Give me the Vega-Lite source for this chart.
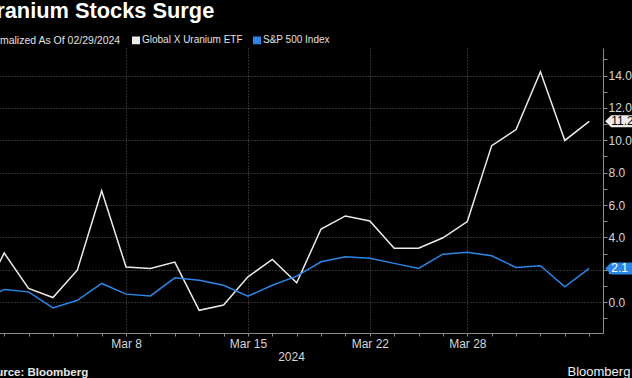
{
  "$schema": "https://vega.github.io/schema/vega-lite/v6.json",
  "width": 637,
  "height": 285,
  "autosize": {"type": "none"},
  "padding": {"left": -34, "top": 48, "right": 29, "bottom": 45},
  "background": "#000000",
  "title": {
    "text": "Uranium Stocks Surge",
    "anchor": "start",
    "frame": "group",
    "dx": 14.5,
    "offset": 12,
    "font": "Liberation Sans",
    "fontSize": 21.8,
    "fontWeight": "bold",
    "color": "#ffffff"
  },
  "data": {
    "values": [
      {"day": "Feb 29", "series": "Global X Uranium ETF", "value": 0},
      {"day": "Mar 1", "series": "Global X Uranium ETF", "value": 3.04},
      {"day": "Mar 4", "series": "Global X Uranium ETF", "value": 0.85},
      {"day": "Mar 5", "series": "Global X Uranium ETF", "value": 0.29},
      {"day": "Mar 6", "series": "Global X Uranium ETF", "value": 1.98},
      {"day": "Mar 7", "series": "Global X Uranium ETF", "value": 6.88},
      {"day": "Mar 8", "series": "Global X Uranium ETF", "value": 2.17},
      {"day": "Mar 11", "series": "Global X Uranium ETF", "value": 2.09},
      {"day": "Mar 12", "series": "Global X Uranium ETF", "value": 2.48},
      {"day": "Mar 13", "series": "Global X Uranium ETF", "value": -0.5},
      {"day": "Mar 14", "series": "Global X Uranium ETF", "value": -0.17},
      {"day": "Mar 15", "series": "Global X Uranium ETF", "value": 1.57},
      {"day": "Mar 18", "series": "Global X Uranium ETF", "value": 2.64},
      {"day": "Mar 19", "series": "Global X Uranium ETF", "value": 1.2},
      {"day": "Mar 20", "series": "Global X Uranium ETF", "value": 4.52},
      {"day": "Mar 21", "series": "Global X Uranium ETF", "value": 5.33},
      {"day": "Mar 22", "series": "Global X Uranium ETF", "value": 5.02},
      {"day": "Mar 25", "series": "Global X Uranium ETF", "value": 3.33},
      {"day": "Mar 26", "series": "Global X Uranium ETF", "value": 3.33},
      {"day": "Mar 27", "series": "Global X Uranium ETF", "value": 3.98},
      {"day": "Mar 28", "series": "Global X Uranium ETF", "value": 4.98},
      {"day": "Apr 1", "series": "Global X Uranium ETF", "value": 9.67},
      {"day": "Apr 2", "series": "Global X Uranium ETF", "value": 10.66},
      {"day": "Apr 3", "series": "Global X Uranium ETF", "value": 14.23},
      {"day": "Apr 4", "series": "Global X Uranium ETF", "value": 9.99},
      {"day": "Apr 5", "series": "Global X Uranium ETF", "value": 11.17},
      {"day": "Feb 29", "series": "S&P 500 Index", "value": 0},
      {"day": "Mar 1", "series": "S&P 500 Index", "value": 0.79},
      {"day": "Mar 4", "series": "S&P 500 Index", "value": 0.64},
      {"day": "Mar 5", "series": "S&P 500 Index", "value": -0.35},
      {"day": "Mar 6", "series": "S&P 500 Index", "value": 0.12},
      {"day": "Mar 7", "series": "S&P 500 Index", "value": 1.16},
      {"day": "Mar 8", "series": "S&P 500 Index", "value": 0.5},
      {"day": "Mar 11", "series": "S&P 500 Index", "value": 0.39},
      {"day": "Mar 12", "series": "S&P 500 Index", "value": 1.51},
      {"day": "Mar 13", "series": "S&P 500 Index", "value": 1.36},
      {"day": "Mar 14", "series": "S&P 500 Index", "value": 1.05},
      {"day": "Mar 15", "series": "S&P 500 Index", "value": 0.37},
      {"day": "Mar 18", "series": "S&P 500 Index", "value": 1.05},
      {"day": "Mar 19", "series": "S&P 500 Index", "value": 1.61},
      {"day": "Mar 20", "series": "S&P 500 Index", "value": 2.5},
      {"day": "Mar 21", "series": "S&P 500 Index", "value": 2.81},
      {"day": "Mar 22", "series": "S&P 500 Index", "value": 2.71},
      {"day": "Mar 25", "series": "S&P 500 Index", "value": 2.4},
      {"day": "Mar 26", "series": "S&P 500 Index", "value": 2.09},
      {"day": "Mar 27", "series": "S&P 500 Index", "value": 2.97},
      {"day": "Mar 28", "series": "S&P 500 Index", "value": 3.08},
      {"day": "Apr 1", "series": "S&P 500 Index", "value": 2.87},
      {"day": "Apr 2", "series": "S&P 500 Index", "value": 2.15},
      {"day": "Apr 3", "series": "S&P 500 Index", "value": 2.25},
      {"day": "Apr 4", "series": "S&P 500 Index", "value": 0.95},
      {"day": "Apr 5", "series": "S&P 500 Index", "value": 2.09}
    ]
  },
  "layer": [
    {
      "mark": {"type": "line", "strokeWidth": 1.5},
      "encoding": {
        "x": {
          "field": "day",
          "type": "ordinal",
          "scale": {
            "type": "point",
            "padding": 0.566,
            "domain": ["Feb 29", "Mar 1", "Mar 4", "Mar 5", "Mar 6", "Mar 7", "Mar 8", "Mar 11", "Mar 12", "Mar 13", "Mar 14", "Mar 15", "Mar 18", "Mar 19", "Mar 20", "Mar 21", "Mar 22", "Mar 25", "Mar 26", "Mar 27", "Mar 28", "Apr 1", "Apr 2", "Apr 3", "Apr 4", "Apr 5"]
          },
          "axis": {
            "orient": "bottom",
            "title": "2024",
            "titleX": 325,
            "titleY": 27,
            "titleBaseline": "alphabetic",
            "titleFontWeight": "normal",
            "titleFontSize": 12,
            "titleColor": "#d6d6d6",
            "labelExpr": "indexof(['Mar 8','Mar 15','Mar 22','Mar 28'], datum.value) >= 0 ? datum.value : ''",
            "labelOverlap": false,
            "labelAngle": 0,
            "labelFontSize": 12,
            "labelColor": "#d6d6d6",
            "labelPadding": 2,
            "tickSize": 3,
            "tickColor": "#8c8c8c",
            "domainColor": "#8c8c8c",
            "grid": true,
            "gridColor": "#5a5a5a",
            "gridDash": [1, 2],
            "gridOpacity": {"condition": {"test": "indexof(['Mar 8','Mar 15','Mar 22','Mar 28'], datum.value) >= 0", "value": 1}, "value": 0}
          }
        },
        "y": {
          "field": "value",
          "type": "quantitative",
          "scale": {"domain": [-1.9, 15.7], "nice": false, "zero": false},
          "axis": {
            "orient": "right",
            "title": null,
            "values": [-1, 0, 1, 2, 3, 4, 5, 6, 7, 8, 9, 10, 11, 12, 13, 14, 15],
            "tickCount": 40,
            "labelExpr": "datum.value % 2 === 0 ? format(datum.value, '.1f') : ''",
            "labelOverlap": false,
            "labelFontSize": 12,
            "labelColor": "#d6d6d6",
            "labelPadding": 1,
            "tickSize": 4,
            "tickColor": "#8c8c8c",
            "domainColor": "#8c8c8c",
            "grid": true,
            "gridColor": "#5a5a5a",
            "gridDash": [1, 2],
            "gridOpacity": {"condition": {"test": "datum.value % 2 === 0", "value": 1}, "value": 0}
          }
        },
        "color": {
          "field": "series",
          "type": "nominal",
          "scale": {"domain": ["Global X Uranium ETF", "S&P 500 Index"], "range": ["#ececec", "#2b86e6"]},
          "legend": {
            "orient": "none",
            "legendX": 17,
            "legendY": -13,
            "direction": "horizontal",
            "title": "Normalized As Of 02/29/2024",
            "titleOrient": "left",
            "titleFont": "Liberation Sans",
            "titleFontSize": 10.5,
            "titleFontWeight": "normal",
            "titleColor": "#e0e0e0",
            "titlePadding": 10,
            "titleBaseline": "middle",
            "labelFont": "Liberation Sans",
            "labelFontSize": 10,
            "labelColor": "#e0e0e0",
            "labelOffset": 1,
            "columnPadding": 7,
            "symbolType": "square",
            "symbolSize": 42,
            "encode": {
              "symbols": {
                "update": {
                  "fill": {"scale": "color", "field": "value"},
                  "stroke": {"value": "transparent"},
                  "shape": {"value": "square"},
                  "size": {"value": 42}
                }
              }
            }
          }
        }
      }
    },
    {
      "transform": [{"filter": "datum.day === 'Apr 5'"}],
      "mark": {
        "type": "point",
        "shape": "M-1,0L-0.65,-0.353L1,-0.353L1,0.353L-0.65,0.353Z",
        "size": 1156,
        "filled": true,
        "opacity": 1,
        "xOffset": 33
      },
      "encoding": {
        "x": {
          "field": "day",
          "type": "ordinal",
          "scale": {
            "type": "point",
            "padding": 0.566,
            "domain": ["Feb 29", "Mar 1", "Mar 4", "Mar 5", "Mar 6", "Mar 7", "Mar 8", "Mar 11", "Mar 12", "Mar 13", "Mar 14", "Mar 15", "Mar 18", "Mar 19", "Mar 20", "Mar 21", "Mar 22", "Mar 25", "Mar 26", "Mar 27", "Mar 28", "Apr 1", "Apr 2", "Apr 3", "Apr 4", "Apr 5"]
          },
          "axis": {
            "orient": "bottom",
            "offset": 0,
            "title": "Source: Bloomberg",
            "titleX": 15,
            "titleY": 42,
            "titleAlign": "left",
            "titleBaseline": "alphabetic",
            "titleFont": "Liberation Sans",
            "titleFontSize": 11.5,
            "titleFontWeight": "bold",
            "titleColor": "#e6e6e6",
            "labels": false,
            "ticks": false,
            "domain": false,
            "grid": false
          }
        },
        "y": {"field": "value", "type": "quantitative", "scale": {"domain": [-1.9, 15.7], "nice": false, "zero": false}},
        "color": {"field": "series", "type": "nominal", "scale": {"domain": ["Global X Uranium ETF", "S&P 500 Index"], "range": ["#ececec", "#2b86e6"]}}
      }
    },
    {
      "transform": [{"filter": "datum.day === 'Apr 5'"}],
      "mark": {"type": "text", "align": "left", "baseline": "middle", "xOffset": 22, "fontSize": 12, "font": "Liberation Sans"},
      "encoding": {
        "x": {
          "field": "day",
          "type": "ordinal",
          "scale": {
            "type": "point",
            "padding": 0.566,
            "domain": ["Feb 29", "Mar 1", "Mar 4", "Mar 5", "Mar 6", "Mar 7", "Mar 8", "Mar 11", "Mar 12", "Mar 13", "Mar 14", "Mar 15", "Mar 18", "Mar 19", "Mar 20", "Mar 21", "Mar 22", "Mar 25", "Mar 26", "Mar 27", "Mar 28", "Apr 1", "Apr 2", "Apr 3", "Apr 4", "Apr 5"]
          },
          "axis": {
            "orient": "bottom",
            "offset": 0,
            "title": "Bloomberg",
            "titleX": 601,
            "titleY": 42,
            "titleAlign": "left",
            "titleBaseline": "alphabetic",
            "titleFont": "Liberation Sans",
            "titleFontSize": 13,
            "titleFontWeight": "normal",
            "titleColor": "#f0f0f0",
            "labels": false,
            "ticks": false,
            "domain": false,
            "grid": false
          }
        },
        "y": {"field": "value", "type": "quantitative", "scale": {"domain": [-1.9, 15.7], "nice": false, "zero": false}},
        "text": {"field": "value", "type": "quantitative", "format": ".1f"},
        "color": {"condition": {"test": "datum.series === 'S&P 500 Index'", "value": "#ffffff"}, "value": "#000000"}
      }
    }
  ],
  "resolve": {"axis": {"x": "independent"}},
  "config": {
    "view": {"stroke": null},
    "font": "Liberation Sans",
    "axis": {"labelFont": "Liberation Sans", "titleFont": "Liberation Sans"}
  }
}
